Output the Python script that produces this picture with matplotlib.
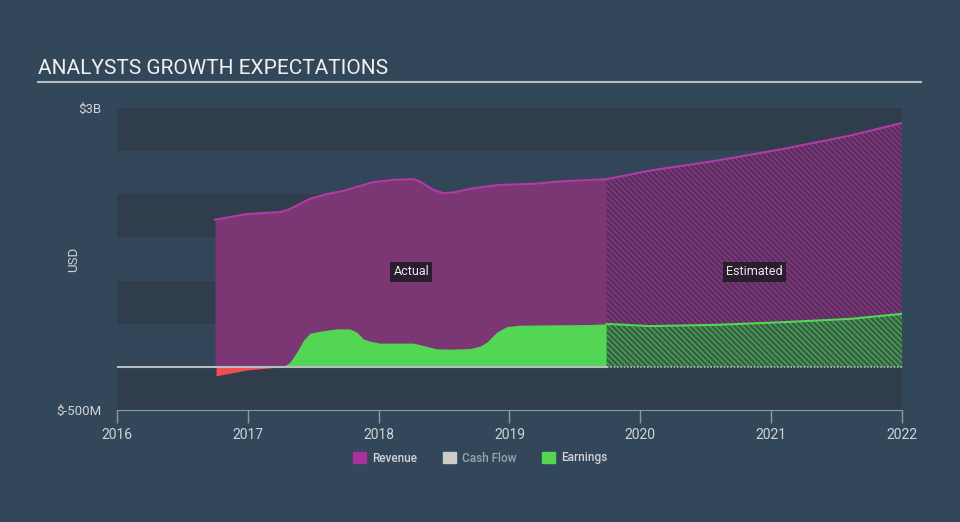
"""Analysts growth expectations - revenue and earnings, actual vs estimated."""
import matplotlib.pyplot as plt, numpy as np
from matplotlib.patches import Patch

plt.rcParams['font.family'] = ['Roboto', 'DejaVu Sans']
plt.rcParams['hatch.linewidth'] = 0.8

# values in $B, x in fractional years
rev_x   = [2016.749, 2016.991, 2017.246, 2017.309, 2017.475, 2017.603, 2017.730, 2017.959, 2018.112,
           2018.265, 2018.316, 2018.418, 2018.494, 2018.571, 2018.723, 2018.927, 2019.182, 2019.386, 2019.743]
rev_y   = [1.706, 1.771, 1.794, 1.820, 1.948, 2.002, 2.040, 2.141, 2.167,
           2.175, 2.148, 2.051, 2.013, 2.021, 2.071, 2.109, 2.121, 2.149, 2.175]
est_x   = [2019.743, 2020.074, 2020.584, 2021.093, 2021.603, 2022.0]
est_rev = [2.175, 2.275, 2.390, 2.526, 2.680, 2.827]

earn_x  = [2016.757, 2017.0, 2017.17, 2017.271, 2017.322, 2017.374, 2017.424, 2017.475, 2017.575,
           2017.679, 2017.781, 2017.832, 2017.883, 2017.934, 2018.010, 2018.265, 2018.341, 2018.444,
           2018.545, 2018.698, 2018.774, 2018.826, 2018.902, 2018.979, 2019.080, 2019.335, 2019.590, 2019.743]
earn_y  = [-0.104, -0.035, -0.012, 0.004, 0.054, 0.170, 0.305, 0.390, 0.419,
           0.440, 0.440, 0.402, 0.324, 0.298, 0.275, 0.275, 0.247, 0.209,
           0.205, 0.212, 0.240, 0.286, 0.402, 0.467, 0.483, 0.487, 0.490, 0.498]
est_earn = [0.498, 0.472, 0.487, 0.518, 0.556, 0.614]

years = [2016, 2017, 2018, 2019, 2020, 2021, 2022]

BG = '#33475a'
DARK = '#2f3d4d'
TXT = '#d0d4d8'
PURPLE_FILL = '#7a3773'
PURPLE_LINE = '#b23aa6'
GREEN = '#52d654'
RED = '#f0504d'

fig = plt.figure(figsize=(9.6, 5.22), dpi=100, facecolor=BG)
ax = fig.add_axes([117/960, 1-410/522, 785/960, 302/522])
ax.set_facecolor('#334558')
ax.set_xlim(2016, 2022)
ax.set_ylim(-0.5, 3.0)

# alternating bands
for lo in [2.5, 1.5, 0.5, -0.5]:
    ax.axhspan(lo, lo+0.5, color=DARK, lw=0, zorder=0)

rx = np.array(rev_x); ry = np.array(rev_y)
ex = np.array(earn_x); ey = np.array(earn_y)

# actual
ax.fill_between(rx, 0, ry, color=PURPLE_FILL, lw=0, zorder=1)
ax.plot(rx, ry, color=PURPLE_LINE, lw=1.5, zorder=3)
ax.fill_between(ex, 0, ey, where=ey >= 0, interpolate=True, color=GREEN, lw=0, zorder=2)
ax.fill_between(ex, 0, ey, where=ey <= 0, interpolate=True, color=RED, lw=0, zorder=2)

# estimated
ax.fill_between(est_x, 0, est_rev, facecolor='#5a2f5f', edgecolor='#8e3b89',
                hatch='\\\\\\\\\\\\', lw=0, zorder=1)
ax.plot(est_x, est_rev, color=PURPLE_LINE, lw=1.5, zorder=3)
ax.fill_between(est_x, 0, est_earn, facecolor='#356145', edgecolor='#52b058',
                hatch='\\\\\\\\\\\\', lw=0, zorder=2)
ax.plot(est_x, est_earn, color=GREEN, lw=1.5, zorder=3)

# zero line
ax.plot([2016, 2019.743], [0, 0], color='#b8bcc4', lw=1.5, zorder=4)
ax.plot([2019.743, 2022], [0, 0], color='#b8bcc4', lw=1.2, ls=(0, (1, 1)), zorder=4)

for txt, xx in [('Actual', 2018.25), ('Estimated', 2020.87)]:
    ax.text(xx, 1.1, txt, color='#e8e8ec', fontsize=9, ha='center', va='center', zorder=5,
            bbox=dict(boxstyle='square,pad=0.25', fc='#2a1d2e', ec='none'))

for s in ['top', 'right', 'left']:
    ax.spines[s].set_visible(False)
ax.spines['bottom'].set_color('#8b9aab')
ax.set_xticks(years)
ax.set_xticklabels([str(y) for y in years])
ax.tick_params(axis='x', colors='#8b9aab', length=9, width=1, labelcolor=TXT, labelsize=10, pad=4)
ax.set_yticks([3.0, -0.5])
ax.set_yticklabels(['$3B', '$-500M'])
ax.tick_params(axis='y', length=0, labelcolor=TXT, labelsize=9.5, pad=11)
ax.set_ylabel('USD', color=TXT, fontsize=9.5)
ax.yaxis.set_label_coords(-0.047, 0.5)

fig.text(38/960, 1-68/522, 'ANALYSTS GROWTH EXPECTATIONS', color='#f0f0f0', fontsize=15, va='center')
fig.add_artist(plt.Line2D([38/960, 921/960], [1-82/522, 1-82/522], color='#b8bcc4', lw=1.5))

handles = [Patch(color='#a8329a'), Patch(color='#cccccc'), Patch(color=GREEN)]
leg = fig.legend(handles, ['Revenue', 'Cash Flow', 'Earnings'], loc='center', ncol=3,
                 bbox_to_anchor=(0.5, 1-458/522), frameon=False,
                 prop={'size': 8.5, 'weight': 'medium'},
                 handlelength=1.1, handleheight=1.1, columnspacing=2.2, handletextpad=0.5)
for t, c in zip(leg.get_texts(), [TXT, '#9aa3ad', TXT]):
    t.set_color(c)

fig.savefig('out.png', dpi=100, facecolor=BG)
